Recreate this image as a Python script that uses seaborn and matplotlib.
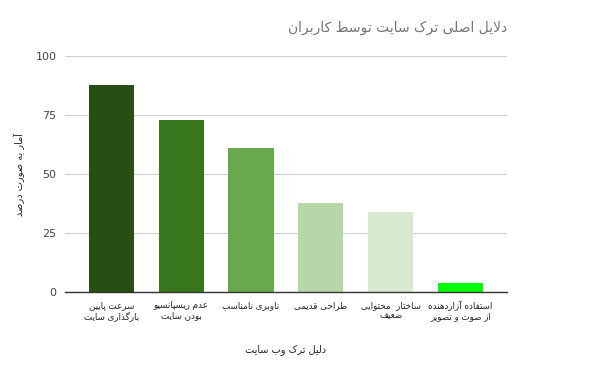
import seaborn as sns
import matplotlib.pyplot as plt
import pandas as pd

reasons = [
    "سرعت پایین\nبارگذاری سایت",
    "عدم ریسپانسیو\nبودن سایت",
    "ناوبری نامناسب",
    "طراحی قدیمی",
    "ساختار  محتوایی\nضعیف",
    "استفاده آزاردهنده\nاز صوت و تصویر",
]
percent = [88, 73, 61, 38, 34, 4]
bar_colors = ["#274e13", "#38761d", "#6aa84f", "#b6d7a8", "#d9ead3", "#00ff00"]
title = "دلایل اصلی ترک سایت توسط کاربران"
x_title = "دلیل ترک وب سایت"
y_title = "آمار به صورت درصد"

# matplotlib has no arabic shaping, so pick presentation forms by hand
# (isolated, final, initial, medial); two-form letters only join to the right
FORMS = {
    "ا": (0xFE8D, 0xFE8E), "آ": (0xFE81, 0xFE82),
    "ب": (0xFE8F, 0xFE90, 0xFE91, 0xFE92), "پ": (0xFB56, 0xFB57, 0xFB58, 0xFB59),
    "ت": (0xFE95, 0xFE96, 0xFE97, 0xFE98), "ج": (0xFE9D, 0xFE9E, 0xFE9F, 0xFEA0),
    "ح": (0xFEA1, 0xFEA2, 0xFEA3, 0xFEA4), "خ": (0xFEA5, 0xFEA6, 0xFEA7, 0xFEA8),
    "د": (0xFEA9, 0xFEAA), "ذ": (0xFEAB, 0xFEAC), "ر": (0xFEAD, 0xFEAE),
    "ز": (0xFEAF, 0xFEB0), "ژ": (0xFB8A, 0xFB8B),
    "س": (0xFEB1, 0xFEB2, 0xFEB3, 0xFEB4), "ش": (0xFEB5, 0xFEB6, 0xFEB7, 0xFEB8),
    "ص": (0xFEB9, 0xFEBA, 0xFEBB, 0xFEBC), "ض": (0xFEBD, 0xFEBE, 0xFEBF, 0xFEC0),
    "ط": (0xFEC1, 0xFEC2, 0xFEC3, 0xFEC4), "ع": (0xFEC9, 0xFECA, 0xFECB, 0xFECC),
    "ف": (0xFED1, 0xFED2, 0xFED3, 0xFED4), "ق": (0xFED5, 0xFED6, 0xFED7, 0xFED8),
    "ک": (0xFB8E, 0xFB8F, 0xFB90, 0xFB91), "گ": (0xFB92, 0xFB93, 0xFB94, 0xFB95),
    "ل": (0xFEDD, 0xFEDE, 0xFEDF, 0xFEE0), "م": (0xFEE1, 0xFEE2, 0xFEE3, 0xFEE4),
    "ن": (0xFEE5, 0xFEE6, 0xFEE7, 0xFEE8), "و": (0xFEED, 0xFEEE),
    "ه": (0xFEE9, 0xFEEA, 0xFEEB, 0xFEEC), "ی": (0xFBFC, 0xFBFD, 0xFBFE, 0xFBFF),
}
LAM_ALEF = {"ا": (0xFEFB, 0xFEFC), "آ": (0xFEF5, 0xFEF6)}


def shape_line(s):
    chars = list(s)
    out = []
    i = 0
    while i < len(chars):
        c = chars[i]
        if c not in FORMS:
            out.append(c)
            i += 1
            continue
        prev = chars[i - 1] if i > 0 else None
        joins_prev = prev in FORMS and len(FORMS[prev]) == 4
        nxt = chars[i + 1] if i + 1 < len(chars) else None
        if c == "ل" and nxt in LAM_ALEF:
            out.append(chr(LAM_ALEF[nxt][1 if joins_prev else 0]))
            i += 2
            continue
        joins_next = nxt in FORMS and len(FORMS[c]) == 4
        f = FORMS[c]
        if joins_prev and joins_next:
            out.append(chr(f[3]))
        elif joins_prev:
            out.append(chr(f[1]))
        elif joins_next:
            out.append(chr(f[2]))
        else:
            out.append(chr(f[0]))
        i += 1
    return "".join(out)[::-1]


def fa(text):
    return "\n".join(shape_line(line) for line in text.split("\n"))


df = pd.DataFrame({"reason": [fa(r) for r in reasons], "percent": percent})

sns.set_theme(style="white")
plt.rcParams["font.family"] = ["DejaVu Sans"]

fig = plt.figure(figsize=(6, 3.71), dpi=100)
ax = fig.add_axes([0.108, 0.212, 0.737, 0.636])
sns.barplot(data=df, x="reason", y="percent", hue="reason", palette=bar_colors,
            legend=False, width=0.645, saturation=1, linewidth=0, ax=ax)

ax.set_ylim(0, 100)
ax.set_xlim(-0.666, 5.666)
ax.set_yticks([0, 25, 50, 75, 100])
ax.yaxis.grid(True, color="#d0d0d0", linewidth=0.8)
ax.set_axisbelow(True)
for side in ["top", "right", "left"]:
    ax.spines[side].set_visible(False)
ax.spines["bottom"].set_color("#333333")
ax.spines["bottom"].set_linewidth(1.0)
ax.tick_params(axis="both", length=0)
ax.tick_params(axis="y", labelsize=8, labelcolor="#444444", pad=6)
ax.tick_params(axis="x", labelsize=6.3, labelcolor="#222222", pad=6)
ax.set_xlabel(fa(x_title), fontsize=7, color="#222222", labelpad=16)
ax.set_ylabel(fa(y_title), fontsize=7, color="#222222")
ax.yaxis.set_label_coords(-0.09, 0.5)

fig.text(0.845, 0.925, fa(title), ha="right", va="center", fontsize=10, color="#757575")

fig.savefig("out.png", dpi=100, facecolor="white")
